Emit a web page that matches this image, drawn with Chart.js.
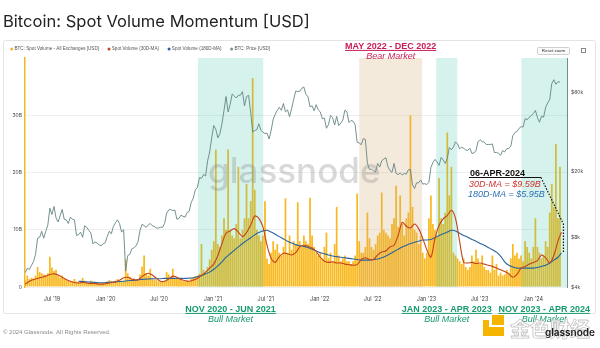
<!DOCTYPE html>
<html>
<head>
<meta charset="utf-8">
<script src="https://cdn.jsdelivr.net/npm/chart.js@4.4.1/dist/chart.umd.min.js"></script>
<style>
  html, body { margin: 0; padding: 0; background: #fff; }
  #wrap { width: 600px; height: 348px; }
</style>
</head>
<body>
<div id="wrap"><canvas id="chart" width="600" height="348"></canvas></div>
<script>
"use strict";
const DAY = 86400000;
const dayOf = s => Date.parse(s + 'T00:00:00Z') / DAY;

// weekly samples, first one on 2019-04-01
const weekStart = '2019-04-01';

// spot volume, all exchanges (billions USD)
const volumeB = [
  // 2019
  1.2, 2.0, 1.4, 1.6, 1.5, 2.0, 3.5, 2.6, 2.4, 2.2,
  2.0, 2.4, 5.3, 3.4, 2.8, 3.0, 2.0, 1.6, 2.0, 1.5,
  1.3, 1.1, 1.0, 1.0, 1.4, 1.0, 0.9, 0.8, 1.6, 1.1,
  0.8, 0.8, 1.1, 0.9, 0.8, 0.7, 0.8, 0.7, 0.7, 0.7,
  // 2020
  0.9, 1.2, 1.0, 0.9, 1.1, 1.4, 1.2, 1.0, 1.1, 4.8,
  2.4, 1.8, 1.4, 1.5, 1.2, 1.3, 2.2, 3.6, 5.5, 2.4,
  2.0, 3.2, 1.6, 1.3, 1.2, 1.0, 1.0, 0.9, 1.1, 2.6,
  2.2, 1.7, 3.2, 1.4, 1.6, 1.4, 1.3, 1.0, 1.0, 1.1,
  1.0, 1.5, 1.6, 1.9, 2.0, 2.3, 7.5, 3.0, 2.4, 3.5,
  4.8, 6.5,
  // 2021
  8.0, 24.0, 7.5, 7.0, 9.0, 12.0, 10.0, 24.0, 10.0, 9.0,
  8.5, 11.0, 21.0, 8.5, 10.0, 12.0, 18.0, 12.0, 15.0, 36.5,
  17.0, 10.0, 9.0, 8.0, 9.0, 15.0, 5.0, 4.0, 6.0, 8.0,
  6.5, 7.5, 6.0, 5.5, 7.0, 15.5, 6.0, 9.0, 6.5, 8.0,
  7.5, 14.8, 8.0, 7.0, 9.0, 8.0, 7.5, 15.6, 9.0, 7.0,
  6.0, 5.5,
  // 2022
  6.0, 5.0, 7.0, 9.5, 5.0, 6.0, 4.5, 7.5, 14.0, 5.5,
  4.5, 5.0, 5.5, 4.5, 4.5, 4.0, 4.5, 5.5, 16.3, 8.0,
  6.0, 6.0, 7.0, 13.0, 8.5, 7.0, 6.5, 7.5, 9.0, 9.5,
  16.5, 10.0, 9.5, 9.0, 8.5, 11.0, 12.0, 17.7, 10.5, 16.0,
  11.0, 9.0, 12.0, 13.0, 30.0, 14.0, 10.0, 9.5, 7.5, 9.0,
  6.0, 5.0,
  // 2023
  6.0, 12.0, 16.0, 11.0, 10.0, 9.0, 19.0, 12.0, 11.0, 13.0,
  27.0, 16.0, 21.0, 6.0, 5.5, 5.0, 4.5, 4.0, 5.0, 3.5,
  3.0, 3.5, 5.5, 4.5, 6.5, 5.0, 4.0, 5.5, 3.5, 3.0,
  3.0, 2.5, 5.5, 3.0, 4.0, 2.0, 2.5, 2.0, 2.2, 3.0,
  2.5, 5.0, 7.5, 5.5, 6.0, 5.0, 5.5, 4.5, 8.0, 7.0,
  6.0, 5.0,
  // 2024
  7.0, 12.0, 7.0, 6.0, 5.0, 5.5, 8.0, 7.0, 13.0, 18.0,
  14.0, 25.0, 12.0, 21.0
];

// BTC price (USD)
const priceUSD = [
  // 2019
  4900, 5200, 5100, 5400, 5700, 6300, 7900, 8000, 8700, 7900,
  8700, 9500, 12000, 11000, 12300, 10500, 9900, 10800, 11800, 10300,
  10200, 9700, 10600, 10300, 10200, 8200, 8300, 8600, 8000, 9400,
  9200, 8800, 8500, 7300, 7500, 7400, 7200, 7100, 7300, 7400,
  // 2020
  8100, 8700, 8400, 9300, 9800, 10200, 9700, 8600, 8900, 5000,
  6200, 6300, 6800, 6900, 7100, 7500, 8800, 9600, 9400, 9200,
  9500, 9700, 9400, 9300, 9100, 9100, 9200, 9200, 9700, 11200,
  11700, 11800, 11600, 11700, 10300, 10400, 10900, 10700, 10600, 11300,
  11500, 13000, 13800, 15500, 16000, 18400, 18200, 19200, 18800, 23200,
  26300, 32000,
  // 2021
  38000, 36000, 32000, 34000, 39000, 47000, 57000, 46000, 51000, 59000,
  57500, 55800, 58000, 58000, 61000, 50000, 57000, 58000, 46000, 34700,
  35500, 35800, 39000, 35600, 34700, 34000, 34200, 31500, 35400, 41500,
  44600, 47000, 49000, 47000, 51700, 46000, 47300, 43000, 48200, 54700,
  61500, 61100, 61300, 64000, 65000, 58600, 57000, 49300, 50100, 46700,
  50800, 47300,
  // 2022
  46000, 41800, 42200, 36600, 38500, 43800, 42500, 38300, 43200, 38000,
  39300, 41000, 47100, 46000, 39600, 40800, 40400, 38500, 30100, 29800,
  29100, 31700, 31300, 22500, 20600, 20700, 20200, 19900, 22400, 21300,
  23300, 23800, 24300, 21400, 20300, 19800, 22400, 19500, 19200, 19600,
  19100, 19500, 19300, 20500, 20600, 16600, 15800, 17100, 17100, 17800,
  16800, 16900,
  // 2023
  16700, 17200, 21200, 22700, 23700, 22900, 21800, 24400, 23500, 22400,
  24100, 28000, 27100, 28200, 30300, 29400, 27500, 28100, 27700, 27000,
  26900, 27700, 25800, 25900, 26800, 30300, 31200, 30400, 30200, 29200,
  29200, 29200, 29400, 26100, 26100, 25800, 25100, 26800, 26300, 27500,
  27600, 28500, 33000, 34500, 35000, 36500, 37400, 37200, 41900, 41200,
  42700, 43600,
  // 2024
  45000, 46900, 42500, 39800, 43300, 42700, 48900, 52100, 54500, 68300,
  72000, 67600, 70000, 69700
];

// moving averages sampled every 14 days from 2019-04-01; last entry is maLastDay
const maStart = '2019-04-01';
const maLastDay = '2024-04-06';
const ma30B = [
  0.5, 1.0, 1.3, 1.5, 1.7, 1.9, 2.2, 2.3, 2.1, 1.7,
  1.3, 1.0, 0.8, 0.7, 0.8, 0.7, 0.6, 0.6, 0.5, 0.5,
  0.6, 0.8, 0.9, 1.2, 1.6, 1.7, 1.4, 1.2, 1.5, 2.1,
  2.4, 2.1, 1.5, 1.0, 1.0, 1.4, 1.9, 1.7, 1.3, 1.1,
  1.0, 1.2, 1.5, 2.0, 2.6, 3.3, 4.0, 5.5, 7.6, 9.4,
  9.8, 10.2, 9.6, 8.8, 9.5, 10.8, 12.4, 12.0, 10.5, 7.3,
  5.0, 4.3, 5.3, 5.9, 5.8, 5.6, 6.0, 7.0, 7.3, 7.1,
  6.8, 6.2, 5.2, 4.5, 4.3, 4.4, 4.2, 4.2, 4.0, 3.9,
  3.8, 3.9, 4.8, 5.1, 4.8, 4.8, 5.6, 6.1, 6.3, 7.0,
  7.3, 9.0, 11.3, 10.6, 10.3, 11.0, 10.2, 8.5, 6.5, 5.2,
  8.5, 10.8, 11.9, 12.5, 13.4, 12.0, 8.0, 4.3, 4.2, 4.3,
  4.1, 4.2, 4.0, 3.8, 3.6, 3.3, 3.0, 2.7, 2.3, 1.7,
  2.2, 3.3, 3.6, 4.0, 4.3, 4.6, 5.6, 5.1, 4.2, 5.5,
  8.0, 9.59
];
const ma180B = [
  null, null, null, null, null, null, null, null, null, null,
  null, null, null, 1.0, 0.95, 0.9, 0.85, 0.8, 0.75, 0.75,
  0.8, 0.85, 0.9, 0.95, 1.0, 1.1, 1.15, 1.2, 1.3, 1.35,
  1.4, 1.45, 1.45, 1.45, 1.5, 1.5, 1.5, 1.5, 1.5, 1.5,
  1.55, 1.6, 1.8, 2.0, 2.3, 2.6, 3.1, 3.7, 4.4, 5.2,
  5.8, 6.4, 7.0, 7.6, 8.1, 8.6, 9.1, 9.5, 9.8, 9.9,
  9.6, 9.2, 8.8, 8.4, 8.0, 7.7, 7.4, 7.2, 7.1, 6.9,
  6.6, 6.3, 6.0, 5.8, 5.6, 5.4, 5.3, 5.2, 5.1, 5.0,
  4.9, 4.8, 4.7, 4.7, 4.7, 4.8, 4.9, 5.1, 5.4, 5.8,
  6.2, 6.6, 7.0, 7.3, 7.6, 7.8, 8.0, 8.2, 8.2, 8.3,
  8.6, 9.0, 9.3, 9.6, 9.9, 9.8, 9.4, 9.0, 8.7, 8.3,
  8.0, 7.6, 7.3, 6.9, 6.5, 6.1, 5.4, 4.4, 3.8, 3.5,
  3.3, 3.3, 3.3, 3.3, 3.3, 3.4, 3.6, 3.8, 4.2, 4.7,
  5.2, 5.95
];

// axes
const xMin = '2019-03-31';
const xMax = '2024-04-25';
const tickDates = ['2019-07-01', '2020-01-01', '2020-07-01', '2021-01-01', '2021-07-01',
                   '2022-01-01', '2022-07-01', '2023-01-01', '2023-07-01', '2024-01-01'];
const tickLabels = ["Jul '19", "Jan '20", "Jul '20", "Jan '21", "Jul '21",
                    "Jan '22", "Jul '22", "Jan '23", "Jul '23", "Jan '24"];
const volTicks = [0, 10, 20, 30];
const volTickLabels = ['0', '10B', '20B', '30B'];
const priceTicks = [4000, 8000, 20000, 60000];
const priceTickLabels = ['$4k', '$8k', '$20k', '$60k'];

// market phases
const phases = [
  { from: '2020-11-11', to: '2021-06-22', bull: true,  title: 'NOV 2020 - JUN 2021' },
  { from: '2022-05-16', to: '2022-12-17', bull: false, title: 'MAY 2022 - DEC 2022' },
  { from: '2023-02-03', to: '2023-04-16', bull: true,  title: 'JAN 2023 - APR 2023' },
  { from: '2023-11-21', to: '2024-04-25', bull: true,  title: 'NOV 2023 - APR 2024' }
];

const C_VOL = '#f9b920', C_MA30 = '#c4431b', C_MA180 = '#2a64a0', C_PRICE = '#668584';
const BULL = '#179a6f', BEAR = '#c81d55';
const SANS = '"Liberation Sans", Arial, sans-serif';

const t0 = dayOf(weekStart);
const volData = volumeB.map((v, i) => ({ x: t0 + 7 * i, y: v }));
const priceData = priceUSD.map((v, i) => ({ x: t0 + 7 * i, y: v }));
const maDay = k => k < ma30B.length - 1 ? dayOf(maStart) + 14 * k : dayOf(maLastDay);
const ma30Data = ma30B.map((v, k) => ({ x: maDay(k), y: v }));
const ma180Data = ma180B.map((v, k) => ({ x: maDay(k), y: v }));

const legendItems = [
  { text: 'BTC: Spot Volume - All Exchanges [USD]', color: '#f0b429' },
  { text: 'Spot Volume (30D-MA)', color: C_MA30 },
  { text: 'Spot Volume (180D-MA)', color: C_MA180 },
  { text: 'BTC: Price [USD]', color: '#7a8f8f' }
];

function fitFont(ctx, text, weight, family, width) {
  ctx.font = weight + ' 20px ' + family;
  const size = 20 * width / ctx.measureText(text).width;
  ctx.font = weight + ' ' + size.toFixed(2) + 'px ' + family;
}

function underlined(ctx, text, cx, y, color) {
  const w = ctx.measureText(text).width;
  ctx.fillStyle = color;
  ctx.textAlign = 'center';
  ctx.fillText(text, cx, y);
  ctx.fillRect(cx - w / 2, y + 1.4, w, 1);
}

const decor = {
  id: 'decor',
  beforeDraw(chart) {
    const ctx = chart.ctx;
    ctx.save();
    ctx.fillStyle = '#fff';
    ctx.fillRect(0, 0, chart.width, chart.height);

    // panel frame
    ctx.strokeStyle = '#e4e4e4';
    ctx.lineWidth = 1;
    ctx.beginPath();
    ctx.roundRect(3.5, 40.5, 592, 273, 2);
    ctx.stroke();

    // title
    ctx.fillStyle = '#222';
    ctx.textBaseline = 'alphabetic';
    fitFont(ctx, 'Bitcoin: Spot Volume Momentum [USD]', '400', 'Inter', 307);
    ctx.fillText('Bitcoin: Spot Volume Momentum [USD]', 3, 26.5);

    // legend
    ctx.font = '4.6px ' + SANS;
    ctx.textBaseline = 'middle';
    let x = 11.7;
    legendItems.forEach(it => {
      ctx.fillStyle = it.color;
      ctx.beginPath();
      ctx.arc(x, 49, 1.5, 0, Math.PI * 2);
      ctx.fill();
      ctx.fillStyle = '#555';
      ctx.fillText(it.text, x + 2.8, 49.2);
      x += 2.8 + ctx.measureText(it.text).width + 10;
    });

    // reset zoom button + menu icon
    ctx.strokeStyle = '#cfcfcf';
    ctx.fillStyle = '#fafafa';
    ctx.beginPath();
    ctx.roundRect(537.5, 47.5, 32, 7, 1);
    ctx.fill();
    ctx.stroke();
    ctx.fillStyle = '#333';
    ctx.font = '4.4px ' + SANS;
    ctx.textAlign = 'center';
    ctx.fillText('Reset zoom', 553.5, 51.2);
    ctx.strokeStyle = '#888';
    ctx.strokeRect(581.5, 48.5, 4, 4);

    // footer
    ctx.textAlign = 'left';
    ctx.textBaseline = 'alphabetic';
    ctx.fillStyle = '#8a8a8a';
    ctx.font = '6px ' + SANS;
    ctx.fillText('\u00a9 2024 Glassnode. All Rights Reserved.', 3, 334);
    ctx.restore();
  },
  afterDatasetDraw(chart, args) {
    if (args.index !== 0) return;
    // phase shading sits over the volume bars
    const ctx = chart.ctx, a = chart.chartArea, xs = chart.scales.x;
    ctx.save();
    phases.forEach(p => {
      const x1 = xs.getPixelForValue(dayOf(p.from));
      const x2 = Math.min(xs.getPixelForValue(dayOf(p.to)), a.right);
      ctx.fillStyle = p.bull ? 'rgba(64,200,170,0.22)' : 'rgba(210,168,108,0.24)';
      ctx.fillRect(x1, a.top, x2 - x1, a.bottom - a.top);
    });
    ctx.restore();
  },
  afterDatasetsDraw(chart) {
    const ctx = chart.ctx;
    ctx.save();
    ctx.fillStyle = 'rgba(140,140,140,0.33)';
    ctx.font = '500 35px Inter';
    ctx.textBaseline = 'alphabetic';
    ctx.fillText('glassnode', 208, 183);
    ctx.restore();
  },
  afterDraw(chart) {
    const ctx = chart.ctx, xs = chart.scales.x, yv = chart.scales.yVol;
    ctx.save();
    ctx.textBaseline = 'alphabetic';

    // phase captions
    phases.forEach(p => {
      const cx = (xs.getPixelForValue(dayOf(p.from)) +
                  Math.min(xs.getPixelForValue(dayOf(p.to)), chart.chartArea.right)) / 2;
      const color = p.bull ? BULL : BEAR;
      const y = p.bull ? 311.5 : 48.5;
      ctx.font = 'bold 9px ' + SANS;
      underlined(ctx, p.title, cx, y, color);
      ctx.font = 'italic 9px ' + SANS;
      ctx.fillText(p.bull ? 'Bull Market' : 'Bear Market', cx, y + (p.bull ? 10.5 : 10));
    });

    // latest values callout
    const last = ma30B.length - 1;
    const d = new Date(dayOf(maLastDay) * DAY);
    const mon = ['JAN','FEB','MAR','APR','MAY','JUN','JUL','AUG','SEP','OCT','NOV','DEC'][d.getUTCMonth()];
    const dateText = String(d.getUTCDate()).padStart(2, '0') + '-' + mon + '-' + d.getUTCFullYear();
    ctx.textAlign = 'left';
    ctx.fillStyle = '#111';
    ctx.font = 'bold 9px ' + SANS;
    ctx.fillText(dateText, 470, 175.5);
    ctx.fillRect(469, 177, 72, 1);
    ctx.font = 'italic 9px ' + SANS;
    ctx.fillStyle = '#d0312d';
    ctx.fillText('30D-MA = $' + ma30B[last].toFixed(2) + 'B', 469, 186.5);
    ctx.fillStyle = '#2c6db3';
    ctx.fillText('180D-MA = $' + ma180B[last].toFixed(2) + 'B', 468, 196.5);

    const xe = xs.getPixelForValue(dayOf(maLastDay));
    ctx.strokeStyle = '#111';
    ctx.lineWidth = 1.2;
    ctx.setLineDash([1.5, 1.5]);
    ctx.beginPath();
    ctx.moveTo(541, 177.5);
    ctx.lineTo(xe + 2, yv.getPixelForValue(ma30B[last]) - 8);
    ctx.lineTo(xe + 2, yv.getPixelForValue(ma180B[last]));
    ctx.stroke();
    ctx.setLineDash([]);

    // publisher marks, bottom right
    ctx.fillStyle = '#f4b400';
    ctx.fillRect(492, 315, 12, 10);
    ctx.fillRect(483, 327, 21, 9);
    ctx.fillRect(483, 320, 6, 8);
    ctx.font = 'bold 20px "Noto Sans CJK SC"';
    ctx.fillStyle = 'rgba(255,255,255,0.85)';
    ctx.strokeStyle = '#c4c4c4';
    ctx.lineWidth = 0.8;
    ctx.fillText('金色财经', 510, 337);
    ctx.strokeText('金色财经', 510, 337);
    ctx.fillStyle = '#1a1a1a';
    ctx.font = '600 10px Inter';
    ctx.fillText('glassnode', 545, 335.5);
    ctx.restore();
  }
};

Chart.defaults.font.family = 'Inter';

new Chart(document.getElementById('chart'), {
  type: 'bar',
  data: {
    datasets: [
      { type: 'bar', label: 'BTC: Spot Volume - All Exchanges [USD]', data: volData, yAxisID: 'yVol',
        backgroundColor: C_VOL, borderWidth: 0, barPercentage: 0.85, categoryPercentage: 1, order: 4 },
      { type: 'line', label: 'Spot Volume (30D-MA)', data: ma30Data, yAxisID: 'yVol',
        borderColor: C_MA30, borderWidth: 1.1, pointRadius: 0, tension: 0.3, order: 1 },
      { type: 'line', label: 'Spot Volume (180D-MA)', data: ma180Data, yAxisID: 'yVol',
        borderColor: C_MA180, borderWidth: 1.1, pointRadius: 0, tension: 0.3, order: 2 },
      { type: 'line', label: 'BTC: Price [USD]', data: priceData, yAxisID: 'yPrice',
        borderColor: C_PRICE, borderWidth: 0.9, pointRadius: 0, tension: 0, order: 3 }
    ]
  },
  options: {
    responsive: false,
    animation: false,
    events: [],
    layout: { padding: { top: 58, left: 0, right: 0, bottom: 0 } },
    plugins: { legend: { display: false }, tooltip: { enabled: false } },
    scales: {
      x: {
        type: 'linear', min: dayOf(xMin), max: dayOf(xMax), offset: false,
        grid: { display: false, drawTicks: false },
        border: { display: false },
        afterBuildTicks: s => { s.ticks = tickDates.map(d => ({ value: dayOf(d) })); },
        afterFit: s => { s.height = 61; },
        ticks: { autoSkip: false, maxRotation: 0, padding: 9, color: '#444',
                 font: { size: 5.5 }, callback: (v, i) => tickLabels[i] }
      },
      yVol: {
        position: 'left', min: 0, max: 40,
        grid: { color: '#efefef', drawTicks: false },
        border: { color: '#f2b62b', width: 1.5 },
        afterBuildTicks: s => { s.ticks = volTicks.map(v => ({ value: v })); },
        afterFit: s => { s.width = 25; },
        ticks: { padding: 3, color: '#444', font: { size: 5 }, callback: (v, i) => volTickLabels[i] }
      },
      yPrice: {
        type: 'logarithmic', position: 'right', min: 4000, max: 97500,
        grid: { display: false, drawTicks: false },
        border: { color: '#6f8e8e', width: 1 },
        afterBuildTicks: s => { s.ticks = priceTicks.map(v => ({ value: v })); },
        afterFit: s => { s.width = 33; },
        ticks: { padding: 4, color: '#444', font: { size: 5 }, callback: (v, i) => priceTickLabels[i] }
      }
    }
  },
  plugins: [decor]
});
</script>
</body>
</html>
